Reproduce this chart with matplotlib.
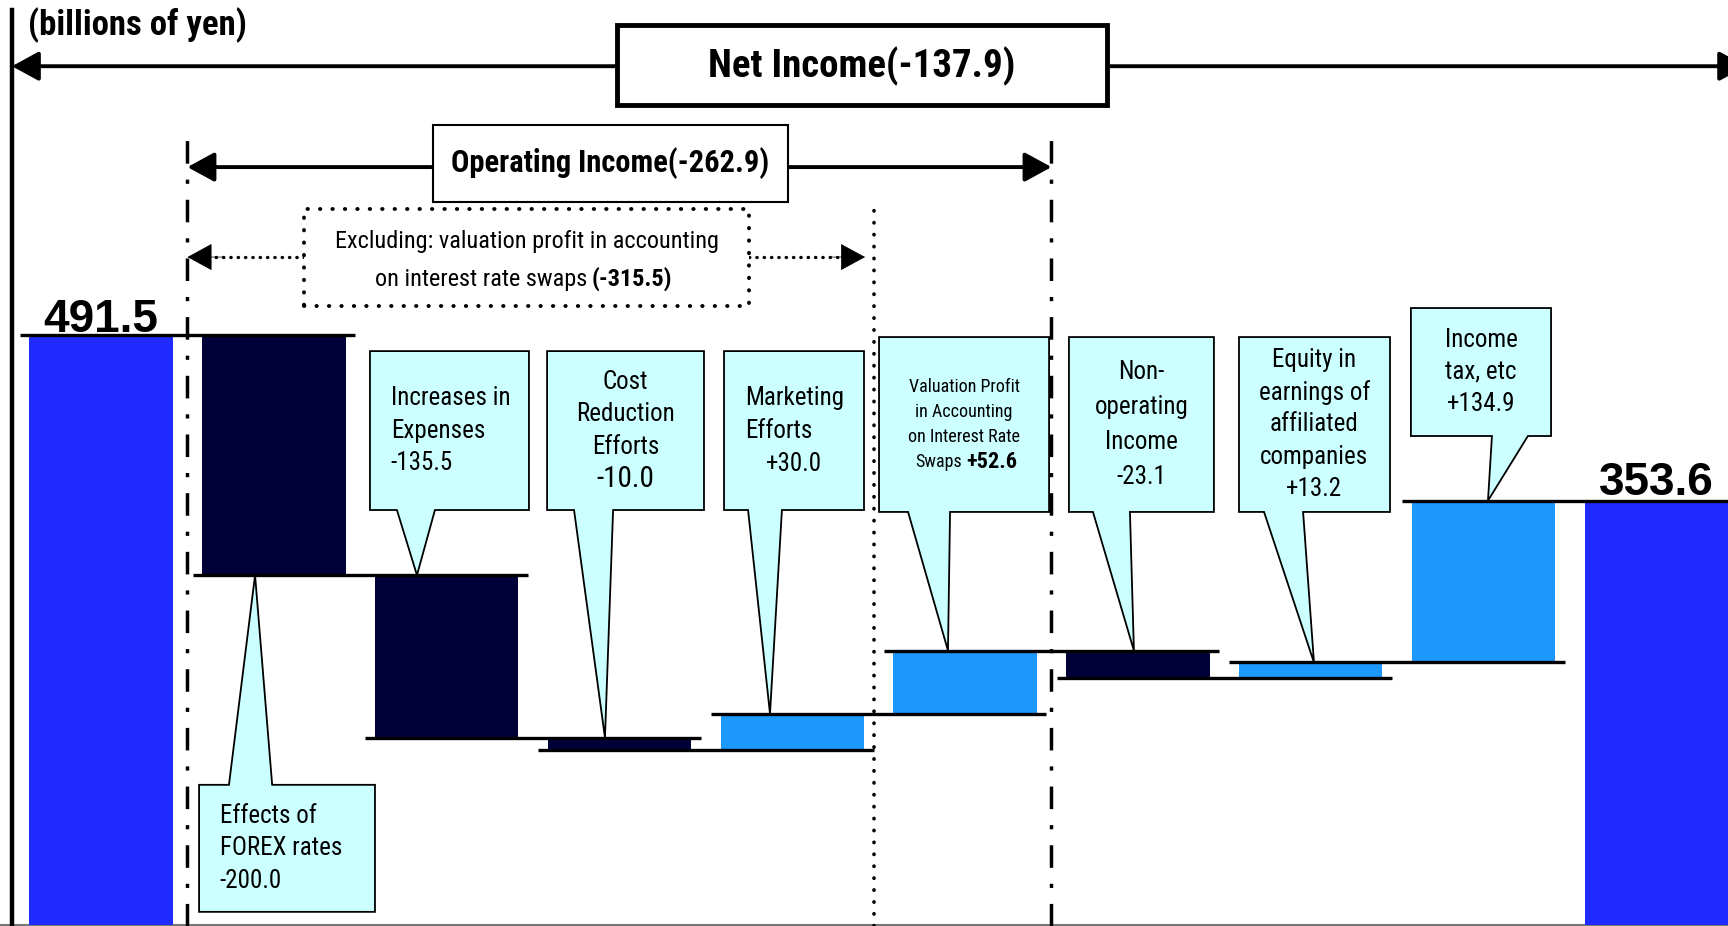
import numpy as np
import matplotlib
matplotlib.use('Agg')
import matplotlib.pyplot as plt
from matplotlib import font_manager
from matplotlib.patches import Polygon, Rectangle, FancyArrowPatch

# ---- data (billions of yen) ----
start_value = 491.5
end_value = 353.6
step_values = [-200.0, -135.5, -10.0, 30.0, 52.6, -23.1, 13.2, 134.9]
step_names = ['Effects of\nFOREX rates',
              'Increases in\nExpenses',
              'Cost\nReduction\nEfforts',
              'Marketing\nEfforts',
              'Valuation Profit\nin Accounting\non Interest Rate\nSwaps',
              'Non-\noperating\nIncome',
              'Equity in\nearnings of\naffiliated\ncompanies',
              'Income\ntax, etc']
unit_label = '(billions of yen)'
net_income_label = 'Net Income(-137.9)'
op_income_label = 'Operating Income(-262.9)'
excl_text1 = 'Excluding: valuation profit in accounting'
excl_text2 = 'on interest rate swaps'
excl_value = '(-315.5)'

# ---- colours ----
c_total = '#1F2BFF'
c_neg = '#000038'
c_pos = '#1C98FF'
c_call = '#CCFFFF'

# pick a condensed face if there is one installed
installed = {f.name for f in font_manager.fontManager.ttflist}
narrow_pick = [f for f in ['Liberation Sans Narrow', 'DejaVu Sans Condensed',
                           'Roboto Condensed', 'Open Sans Condensed',
                           'Noto Sans Condensed'] if f in installed]
NARROW = narrow_pick[:1] + ['Liberation Sans']
WIDE = ['Liberation Sans', 'DejaVu Sans']

fig = plt.figure(figsize=(17.28, 9.26), dpi=100)
ax = fig.add_axes([0, 0, 1, 1])
ax.set_xlim(-0.585, 9.415)
ax.set_ylim(-1, 771)
ax.axis('off')

n = len(step_values)
levels = start_value + np.concatenate([[0], np.cumsum(step_values)])
bw = 0.83

# start / end totals
ax.bar(0, start_value, width=bw, color=c_total, zorder=2)
ax.bar(n + 1, end_value, width=bw, color=c_total, zorder=2)
# steps
for i, v in enumerate(step_values):
    lo = min(levels[i], levels[i + 1])
    ax.bar(i + 1, abs(v), bottom=lo, width=bw,
           color=c_pos if v > 0 else c_neg, zorder=2)

# connector lines: each level spans bar i and bar i+1
ext = 0.47
for i in range(n + 1):
    ax.plot([i - ext, i + 1 + ext], [levels[i], levels[i]], color='black',
            lw=2.4, solid_capstyle='butt', zorder=3)

# totals
ax.text(0, start_value + 3, f'{start_value:.1f}', ha='center', va='baseline',
        fontsize=33, fontweight='bold', family=WIDE, zorder=5)
ax.text(n + 1, end_value + 5, f'{end_value:.1f}', ha='center', va='baseline',
        fontsize=33, fontweight='bold', family=WIDE, zorder=5)

# ---- callouts ----
# box left/right (rel. to bar), box bottom/top, tail base left/right, tip x (rel), line spacing
call_layout = [
    (-0.433, 0.585, 10.8, 116.7, -0.26, -0.01, -0.109, 27.0),
    (-0.444, 0.476, 345.8, 478.3, -0.288, -0.068, -0.172, 27.0),
    (-0.419, 0.489, 345.8, 478.3, -0.263, -0.037, -0.084, 27.0),
    (-0.395, 0.415, 345.8, 478.3, -0.256, -0.060, -0.129, 27.5),
    (-0.498, 0.486, 344.2, 490.0, -0.330, -0.087, -0.099, 21.0),
    (-0.399, 0.440, 344.2, 490.0, -0.260, -0.046, -0.023, 29.0),
    (-0.415, 0.459, 344.2, 490.0, -0.270, -0.044, 0.019, 27.0),
    (-0.420, 0.391, 407.5, 514.2, 0.049, 0.257, 0.026, 27.0),
]

for k, (name, v) in enumerate(zip(step_names, step_values)):
    bl, br, bb, bt, t1, t2, tip, sp = call_layout[k]
    xc = k + 1
    L, R = xc + bl, xc + br
    if k == 0:
        tip_y = min(levels[k], levels[k + 1])
        verts = [(L, bb), (L, bt), (xc + t1, bt), (xc + tip, tip_y),
                 (xc + t2, bt), (R, bt), (R, bb)]
    else:
        tip_y = max(levels[k], levels[k + 1])
        verts = [(L, bt), (R, bt), (R, bb), (xc + t2, bb), (xc + tip, tip_y),
                 (xc + t1, bb), (L, bb)]
    ax.add_patch(Polygon(verts, closed=True, facecolor=c_call, edgecolor='black',
                         lw=1.3, zorder=6))

    lines = name.split('\n')
    val = f'{v:+.1f}'
    nl = len(lines) + (0 if k == 4 else 1)
    yc = (bb + bt) / 2
    ys = [yc + (nl - 1) / 2 * sp - j * sp for j in range(nl)]
    xmid = (L + R) / 2
    fs = 13 if k == 4 else 18
    for j, ln in enumerate(lines):
        if k in (0, 1, 3):
            ax.text(L + 0.12, ys[j], ln, ha='left', va='center', fontsize=fs,
                    family=NARROW, zorder=7)
        elif k == 4 and j == len(lines) - 1:
            ax.text(xmid - 0.015, ys[j], ln, ha='right', va='center', fontsize=fs,
                    family=NARROW, zorder=7)
            ax.text(xmid + 0.015, ys[j], val, ha='left', va='center', fontsize=16,
                    fontweight='bold', family=NARROW, zorder=7)
        else:
            ax.text(xmid, ys[j], ln, ha='center', va='center', fontsize=fs,
                    family=NARROW, zorder=7)
    if k != 4:
        if k in (0, 1):
            ax.text(L + 0.12, ys[-1], val, ha='left', va='center', fontsize=18,
                    family=NARROW, zorder=7)
        elif k == 2:
            ax.text(xmid, ys[-1], val, ha='center', va='center', fontsize=21,
                    family=NARROW, zorder=7)
        else:
            ax.text(xmid, ys[-1], val, ha='center', va='center', fontsize=18,
                    family=NARROW, zorder=7)

# ---- frame lines ----
ax.plot([-0.516, -0.516], [-1, 762.5], color='black', lw=3.2, zorder=4)
ax.axhline(0, color='#777777', lw=1.5, zorder=1)
ax.text(-0.423, 750, unit_label, ha='left', va='center', fontsize=25,
        fontweight='bold', family=NARROW)

# dash-dot operating income bounds
for xv in (0.5, 5.5):
    ax.plot([xv, xv], [-1, 660], color='black', lw=2.5,
            linestyle=(0, (6.5, 4.6, 1.2, 4.6)), dash_capstyle='butt', zorder=4)
# dotted bound
ax.plot([4.47, 4.47], [-1, 596], color='black', lw=2.6,
        linestyle=(0, (0.1, 3.2)), dash_capstyle='round', zorder=4)

head = 'head_length=1.1,head_width=0.6'
# net income arrow + box
y_net = 715.8
ax.add_patch(FancyArrowPatch((-0.516, y_net), (9.52, y_net), arrowstyle='<|-|>,' + head,
                             mutation_scale=15, lw=2.8, color='black',
                             shrinkA=0, shrinkB=0, zorder=4))
ax.add_patch(Rectangle((2.986, 683.3), 5.821 - 2.986, 750 - 683.3, facecolor='white',
                       edgecolor='black', lw=3.5, zorder=5))
ax.text(4.40, 716, net_income_label, ha='center', va='center', fontsize=28,
        fontweight='bold', family=NARROW, zorder=6)

# operating income arrow + box
y_op = 631.7
ax.add_patch(FancyArrowPatch((0.5, y_op), (5.5, y_op), arrowstyle='<|-|>,' + head,
                             mutation_scale=15, lw=2.8, color='black',
                             shrinkA=0, shrinkB=0, zorder=4))
ax.add_patch(Rectangle((1.921, 602.5), 3.975 - 1.921, 666.7 - 602.5, facecolor='white',
                       edgecolor='black', lw=1.5, zorder=5))
ax.text(2.948, 635, op_income_label, ha='center', va='center', fontsize=22,
        fontweight='bold', family=NARROW, zorder=6)

# excluding box + dotted arrows (dotted shaft, solid head)
y_ex = 556.7
for x0, x1 in ((1.174, 0.5), (3.75, 4.421)):
    ax.plot([x0, x1], [y_ex, y_ex], color='black', lw=2.4,
            linestyle=(0, (0.1, 2.1)), dash_capstyle='round', zorder=4)
    ax.add_patch(FancyArrowPatch((x1 + (x0 - x1) * 0.3, y_ex), (x1, y_ex),
                                 arrowstyle='-|>,' + head, mutation_scale=15, lw=0.5,
                                 color='black', shrinkA=0, shrinkB=0, zorder=4))
ex_box = Rectangle((1.174, 515.8), 3.75 - 1.174, 596.7 - 515.8, facecolor='white',
                   edgecolor='black', lw=2.8, linestyle=(0, (0.1, 3.1)), zorder=5)
ex_box.set_capstyle('round')
ax.add_patch(ex_box)
ax.text(2.462, 570, excl_text1, ha='center', va='center', fontsize=17.5,
        family=NARROW, zorder=6)
ax.text(2.812, 538.3, excl_text2, ha='right', va='center', fontsize=17.5,
        family=NARROW, zorder=6)
ax.text(2.841, 538.3, excl_value, ha='left', va='center', fontsize=17.5,
        fontweight='bold', family=NARROW, zorder=6)

fig.savefig('out.png', dpi=100)
